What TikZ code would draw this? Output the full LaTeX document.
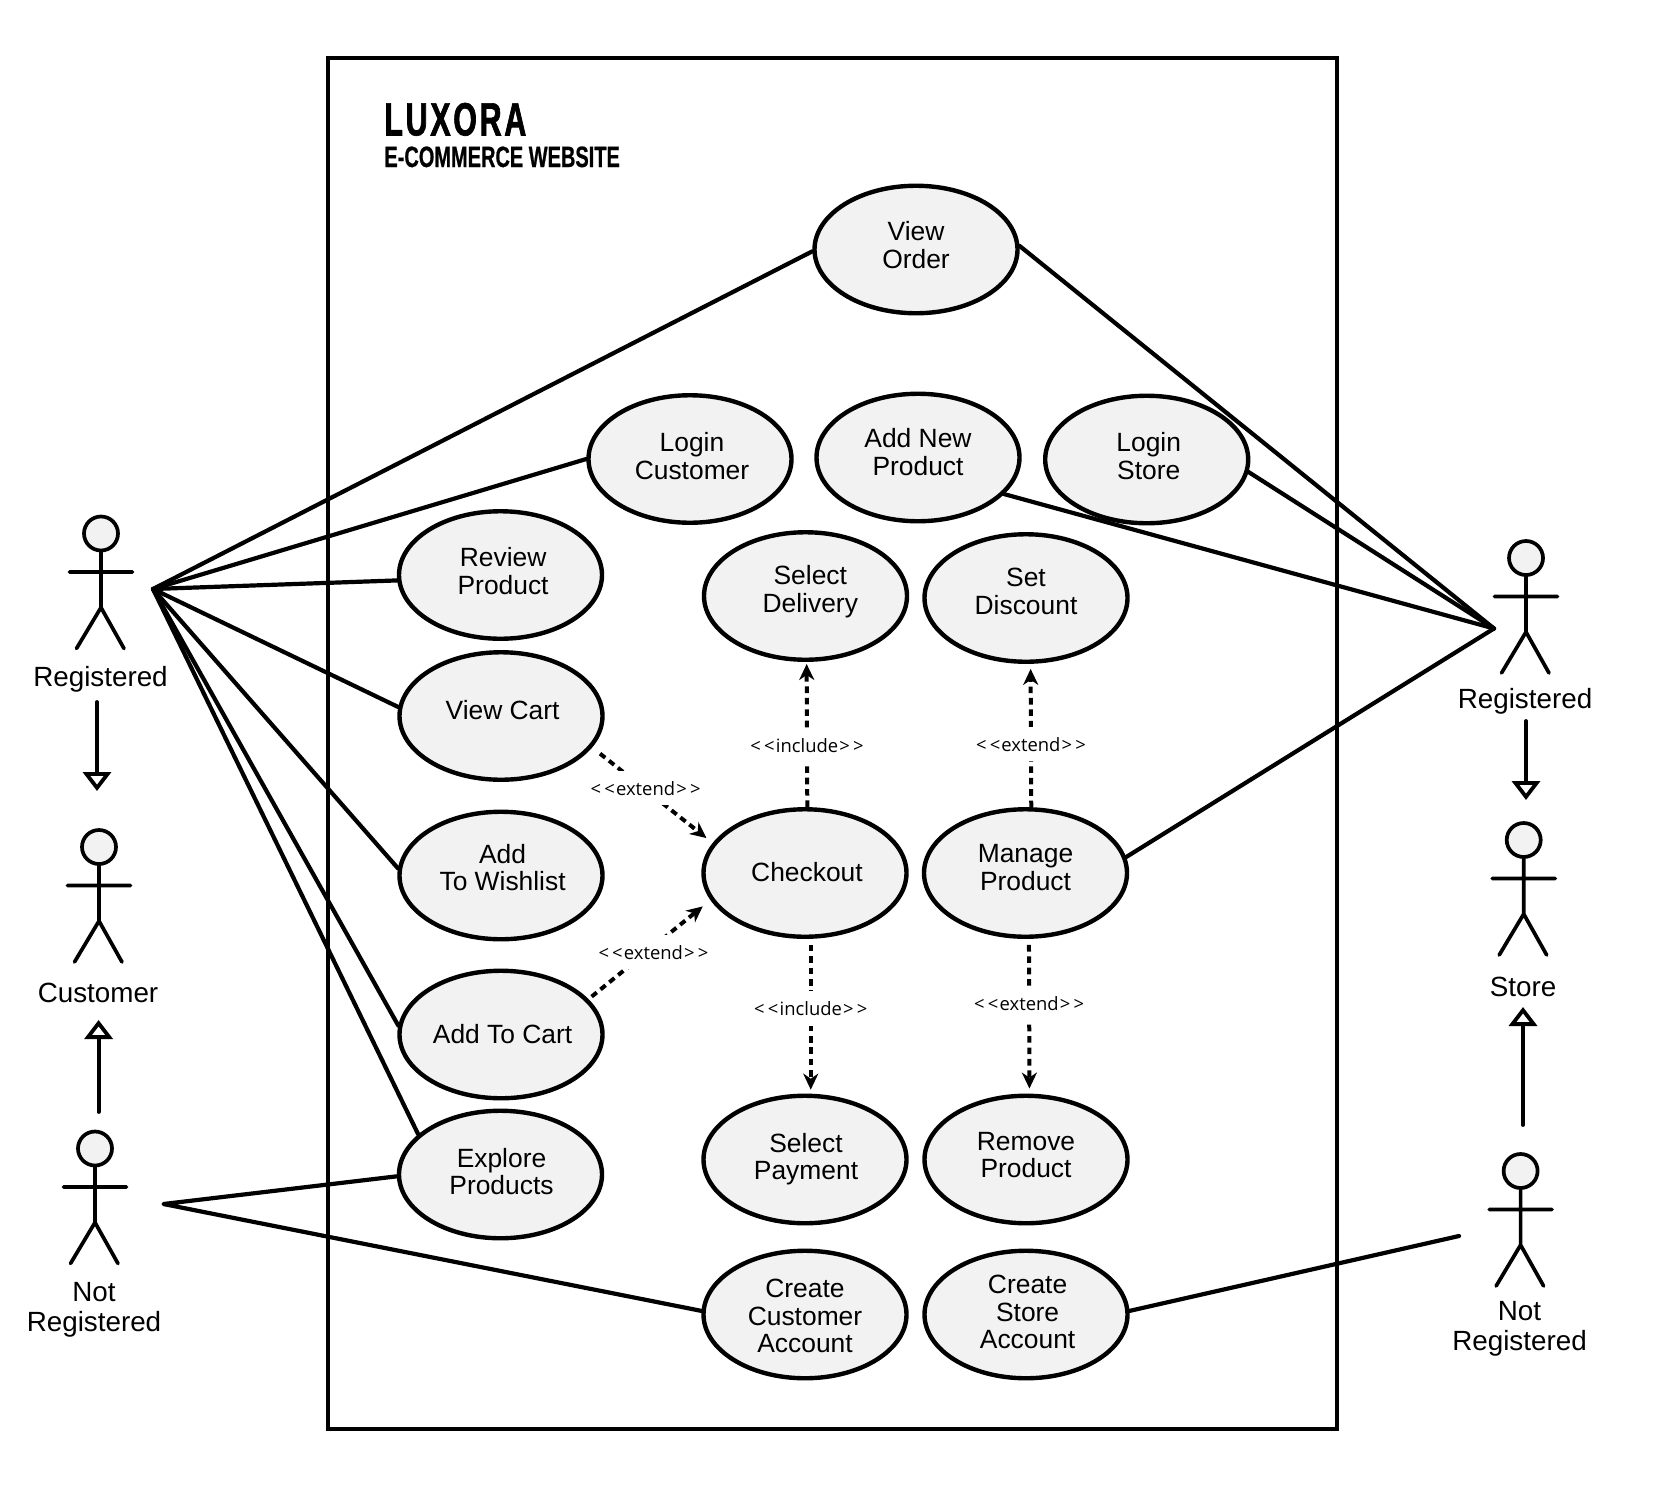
\documentclass[tikz,border=0pt]{standalone}
\usepackage{fontspec}
\setmainfont{Liberation Sans}
\newfontfamily\logofont[FakeStretch=.65,LetterSpace=6,FakeBold=1.5]{Liberation Sans}
\newfontfamily\subfont[FakeStretch=.68,FakeBold=.6]{Liberation Sans}
\newfontfamily\depfont{Open Sans}
\usetikzlibrary{arrows.meta,shapes.geometric}
\definecolor{usefill}{HTML}{F2F2F2}
% text of a use case, moved by #1 to the right and #2 up
\newcommand{\uctext}[3]{\raisebox{0pt}[\dimexpr\height-#2][\dimexpr\depth+#2]{\kern\dimexpr#1*2\relax
  \begin{tabular}{@{}c@{}}#3\end{tabular}}}
\newcommand{\stereo}[1]{<\kern1.6pt<\kern.6pt#1\kern.6pt>\kern1.6pt>}
\tikzset{
  usecase/.style={ellipse,draw,line width=2.2pt,fill=usefill,inner sep=0pt,
    minimum width=101.5pt,minimum height=63.75pt,
    font=\fontsize{13.2}{13.8}\selectfont},
  actorlabel/.style={inner sep=0pt,align=center,font=\fontsize{13.9}{14.8}\selectfont},
  assoc/.style={line width=2.1pt,line cap=round,line join=round},
  genarrow/.style={line width=1.9pt,line cap=round,
    -{Triangle[open,length=9.5pt,width=14pt,fill=white]}},
  depend/.style={line width=2pt,dash pattern=on 3.3pt off 2.4pt,
    -{Stealth[length=8pt,width=7.5pt,inset=2.5pt]}},
  deplabel/.style={fill=white,inner xsep=0pt,inner ysep=5pt,
    font=\depfont\fontsize{9.2}{10}\selectfont},
  actor/.pic={
    \draw[line width=1.85pt,line cap=round,fill=usefill] (0,0) circle[radius=17];
    \draw[line width=1.85pt,line cap=round] (0,18) -- (0,74) (-31.5,38.5) -- (31.5,38.5)
       (-24.5,115) -- (0,74) -- (23,115);
  }
}
\begin{document}
\begin{tikzpicture}[x=.5pt,y=-.5pt]
  \useasboundingbox (0,0) rectangle (1654,1489);
  \draw[line width=2.1pt,line join=miter] (328,58) rectangle (1337,1429);
  \node[anchor=base west,inner sep=0pt] (logo) at (384,135.4)
     {\logofont\bfseries\fontsize{23.3}{24}\selectfont LUXORA};
  \node[anchor=base west,inner sep=0pt] (subtitle) at (384,167)
     {\subfont\bfseries\fontsize{14.7}{15}\selectfont E-COMMERCE WEBSITE};

  % use cases
  \node[usecase] (vieworder) at (916,249.5) {\uctext{0pt}{.3pt}{View\\Order}};
  \node[usecase] (logincust) at (690,459) {\uctext{1pt}{-.5pt}{Login\\Customer}};
  \node[usecase] (addnew) at (918,457.5) {\uctext{0pt}{.9pt}{Add New\\Product}};
  \node[usecase] (loginstore) at (1146.7,459.5) {\uctext{1pt}{-.3pt}{Login\\Store}};
  \node[usecase] (review) at (500.5,575) {\uctext{1.3pt}{0pt}{Review\\Product}};
  \node[usecase] (viewcart) at (501,716) {\uctext{.8pt}{1pt}{View Cart}};
  \node[usecase] (wishlist) at (501,875.5) {\uctext{.8pt}{2.1pt}{Add\\To Wishlist}};
  \node[usecase] (addcart) at (501,1034.5) {\uctext{.8pt}{-1.6pt}{Add To Cart}};
  \node[usecase] (explore) at (500.5,1174.5) {\uctext{.5pt}{-.5pt}{Explore\\Products}};
  \node[usecase] (delivery) at (805.5,596) {\uctext{2.4pt}{1.4pt}{Select\\Delivery}};
  \node[usecase] (checkout) at (805,873) {\uctext{1pt}{-1.6pt}{Checkout}};
  \node[usecase] (payment) at (805,1159.5) {\uctext{.5pt}{-.5pt}{Select\\Payment}};
  \node[usecase] (custacc) at (805,1314.5) {\uctext{0pt}{-2.6pt}{Create\\Customer\\Account}};
  \node[usecase] (discount) at (1026,598) {\uctext{0pt}{1.6pt}{Set\\Discount}};
  \node[usecase] (manage) at (1025.5,873) {\uctext{0pt}{1.1pt}{Manage\\Product}};
  \node[usecase] (remove) at (1026,1159.5) {\uctext{0pt}{.5pt}{Remove\\Product}};
  \node[usecase] (storeacc) at (1026,1314.5) {\uctext{.8pt}{-.6pt}{Create\\Store\\Account}};

  % actors
  \pic at (101,533.5) {actor};
  \pic at (99,847) {actor};
  \pic at (95,1148.5) {actor};
  \pic at (1526,558) {actor};
  \pic at (1523.7,840) {actor};
  \pic at (1520.6,1171) {actor};
  \node[actorlabel] (regleft) at (100.5,679) {Registered};
  \node[actorlabel] (customer) at (98,993) {Customer};
  \node[actorlabel] (notregleft) at (94,1310) {Not\\Registered};
  \node[actorlabel] (regright) at (1525,701) {Registered};
  \node[actorlabel] (store) at (1523,986.6) {Store};
  \node[actorlabel] (notregright) at (1519.5,1329) {Not\\Registered};

  % free ends of the connectors
  \coordinate (hubleft) at (153,589);
  \coordinate (hubnot) at (163.5,1204);
  \coordinate (hubright) at (1494,628.5);
  \coordinate (hubstore) at (1459,1236);

  \foreach \target/\ang in {vieworder/181,logincust/180,review/183.6,viewcart/175.5,
      wishlist/176.4,addcart/175,explore/154.4}
    \draw[assoc] (hubleft) -- (\target.\ang);
  \draw[assoc] (explore.181.4) -- (hubnot) -- (custacc.178.6);
  \foreach \target/\ang in {vieworder/2,loginstore/-7,addnew/-23.9,manage/9.3}
    \draw[assoc] (hubright) -- (\target.\ang);
  \draw[assoc] (hubstore) -- (storeacc.2.5);

  % generalisations
  \coordinate (gena) at (97,702);
  \coordinate (genb) at (97,791);
  \coordinate (genc) at (98.6,1112);
  \coordinate (gend) at (98.6,1020);
  \coordinate (gene) at (1526,721);
  \coordinate (genf) at (1526,800);
  \coordinate (geng) at (1523,1125);
  \coordinate (genh) at (1523,1007);
  \draw[genarrow] (gena) -- (genb);
  \draw[genarrow] (genc) -- (gend);
  \draw[genarrow] (gene) -- (genf);
  \draw[genarrow] (geng) -- (genh);

  % include and extend
  \draw[depend,shorten <=5pt,shorten >=4pt] (viewcart.-19.5) -- node[deplabel,pos=.46,xshift=-1pt,yshift=1.6pt] {\stereo{extend}} (checkout.162);
  \draw[depend,shorten <=2pt,shorten >=5pt] (addcart.22.7) -- node[deplabel,pos=.575,xshift=-2.6pt,yshift=-5pt] {\stereo{extend}} (checkout.196.3);
  \draw[depend,shorten >=1pt] (checkout.88) -- node[deplabel,pos=.427] {\stereo{include}} (delivery.271);
  \draw[depend,shorten <=3pt,shorten >=2pt] (checkout.-85.5) -- node[deplabel,pos=.45] {\stereo{include}} (payment.85.5);
  \draw[depend,shorten >=2.5pt] (manage.85.5) -- node[deplabel,pos=.44] {\stereo{extend}} (discount.274);
  \draw[depend,shorten <=3pt,shorten >=2.5pt] (manage.-87) -- node[deplabel,pos=.417] {\stereo{extend}} (remove.87);
\end{tikzpicture}
\end{document}
